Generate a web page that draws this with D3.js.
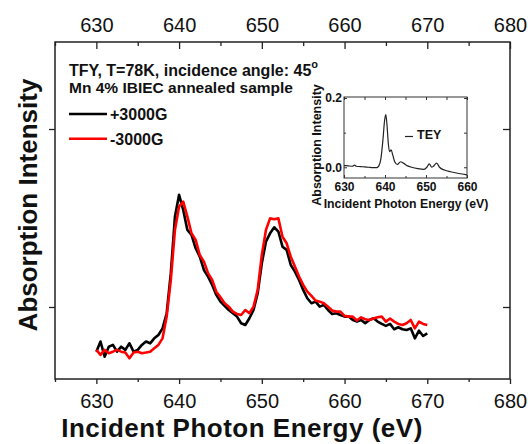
<!DOCTYPE html>
<html><head><meta charset="utf-8">
<script src="https://cdn.jsdelivr.net/npm/d3@7"></script>
<style>
body{margin:0;background:#fff}
svg{display:block}
text{font-family:"Liberation Sans",Arial,Helvetica,sans-serif;fill:#111}
</style>
</head><body>
<svg id="chart" width="528" height="444"></svg>
<script>
// ---------- DATA ----------
const energy = [630,630.5,631,631.5,632,632.5,633,633.5,634,634.5,635,635.5,636,636.5,637,637.5,638,638.5,639,639.5,
  640,640.5,641,641.5,642,642.5,643,643.5,644,644.5,645,645.5,646,646.5,647,647.5,648,648.5,649,649.5,
  650,650.5,651,651.5,652,652.5,653,653.5,654,654.5,655,655.5,656,656.5,657,657.5,658,658.5,659,659.5,
  660,660.5,661,661.5,662,662.5,663,663.5,664,664.5,665,665.5,666,666.5,667,667.5,668,668.5,669,669.5,670];
const plus3000G = [0.749,0.806,0.721,0.777,0.787,0.749,0.777,0.759,0.796,0.749,0.759,0.787,0.806,0.796,0.824,0.843,0.880,0.965,1.190,1.508,
  1.630,1.545,1.433,1.405,1.330,1.283,1.208,1.171,1.124,1.068,1.030,1.006,0.983,0.965,0.946,0.909,0.899,0.937,0.983,1.077,
  1.246,1.367,1.414,1.448,1.424,1.339,1.321,1.236,1.199,1.152,1.096,1.049,1.021,1.030,1.002,1.012,0.983,0.961,0.965,0.955,
  0.946,0.946,0.927,0.918,0.927,0.909,0.927,0.937,0.918,0.905,0.894,0.905,0.875,0.886,0.875,0.871,0.880,0.824,0.867,0.837,0.852];
const minus3000G = [0.759,0.731,0.759,0.740,0.749,0.759,0.749,0.744,0.712,0.744,0.749,0.740,0.744,0.749,0.768,0.787,0.824,0.946,1.152,1.433,
  1.564,1.592,1.508,1.414,1.377,1.292,1.255,1.190,1.152,1.086,1.055,1.021,1.002,0.974,0.961,0.955,0.983,0.965,1.002,1.096,
  1.292,1.433,1.498,1.493,1.498,1.395,1.358,1.283,1.227,1.171,1.124,1.086,1.062,1.036,1.030,1.021,1.002,0.980,0.974,0.974,
  0.950,0.946,0.946,0.924,0.942,0.931,0.927,0.935,0.942,0.946,0.918,0.935,0.918,0.905,0.899,0.909,0.927,0.880,0.918,0.905,0.899];
const xTicks = [630,640,650,660,670,680];
const xMinorTicks = [625,635,645,655,665,675];
const yTicks = [1,2];
const seriesNames = ["+3000G","-3000G"];
const seriesColors = ["#000000","#ff0000"];

const teyEnergy = [630,631,632,632.6,633,634,635,636,637,638,638.5,639,639.5,639.9,640.2,640.5,640.8,641.1,641.5,641.9,
  642.4,643,643.8,644.5,645.5,646.5,648,649.5,650.2,650.8,651.4,651.8,652.6,653.3,654.5,656,658,660];
const teyValue = [0.005,0.004,0.003,0.006,0.003,0.002,0.001,0.000,-0.001,-0.001,0.004,0.025,0.080,0.135,0.152,0.120,0.070,0.045,0.050,0.035,
  0.015,0.008,0.016,0.012,0.004,0.000,-0.004,-0.006,0.000,0.010,0.000,0.003,0.012,0.000,-0.008,-0.013,-0.018,-0.022];
const insetXTicks = [630,640,650,660];
const insetXMinor = [635,645,655];
const insetYTicks = [0.0,0.2];
const insetYMinor = [0.1];

// ---------- MAIN CHART ----------
const svg = d3.select("#chart");
const L = 55, R = 510, T = 42, B = 379;
const x = d3.scaleLinear().domain([625, 680]).range([L, R]);
const y = d3.scaleLinear().domain([0.5955, 2.4888]).range([B, T]);

function styleAxis(g){
  g.select(".domain").remove();
  g.selectAll(".tick line").attr("stroke","#222").attr("stroke-width",1.3);
  g.selectAll(".tick text").attr("fill","#111").style("font-family",'"Liberation Sans",Arial,sans-serif');
}

// bottom
svg.append("g").attr("transform",`translate(0,${B})`)
  .call(d3.axisBottom(x).tickValues(xTicks).tickFormat(d3.format("d")).tickSize(5).tickPadding(9.5))
  .call(styleAxis).selectAll("text").style("font-size","20px");
svg.append("g").attr("transform",`translate(0,${B})`)
  .call(d3.axisBottom(x).tickValues(xMinorTicks).tickFormat("").tickSize(3)).call(styleAxis);
// top (ticks inward)
svg.append("g").attr("transform",`translate(0,${T})`)
  .call(d3.axisTop(x).tickValues(xTicks).tickFormat(d3.format("d")).tickSize(-7).tickPadding(10.5))
  .call(styleAxis).selectAll("text").style("font-size","20px");
svg.append("g").attr("transform",`translate(0,${T})`)
  .call(d3.axisTop(x).tickValues(xMinorTicks).tickFormat("").tickSize(-4)).call(styleAxis);
// left (outward)
svg.append("g").attr("transform",`translate(${L},0)`)
  .call(d3.axisLeft(y).tickValues(yTicks).tickFormat("").tickSize(6)).call(styleAxis);
// right (pointing left / inward)
svg.append("g").attr("transform",`translate(${R},0)`)
  .call(d3.axisLeft(y).tickValues(yTicks).tickFormat("").tickSize(7)).call(styleAxis);

// frame
svg.append("rect").attr("x",L).attr("y",T).attr("width",R-L).attr("height",B-T)
  .attr("fill","none").attr("stroke","#222").attr("stroke-width",1.5);

// series
const line = d3.line().x((d,i)=>x(energy[i])).y(d=>y(d));
[plus3000G, minus3000G].forEach((s,k)=>{
  svg.append("path").datum(s).attr("d",line).attr("fill","none")
    .attr("stroke",seriesColors[k]).attr("stroke-width",2.6).attr("stroke-linejoin","round");
});

// axis titles
svg.append("text").attr("x",242).attr("y",437).attr("text-anchor","middle")
  .style("font-size","26px").style("font-weight","bold").style("letter-spacing","0.5px")
  .text("Incident Photon Energy (eV)");
svg.append("text").attr("transform","translate(37,205) rotate(-90)").attr("text-anchor","middle")
  .style("font-size","26px").style("font-weight","bold")
  .text("Absorption Intensity");

// legend / annotation
const t1 = svg.append("text").attr("x",69).attr("y",76).style("font-size","16px").style("font-weight","bold");
t1.append("tspan").text("TFY, T=78K, incidence angle: 45");
t1.append("tspan").attr("dy",-8).style("font-size","11px").text("o");
svg.append("text").attr("x",69).attr("y",93).style("font-size","15.5px").style("font-weight","bold")
  .text("Mn 4% IBIEC annealed sample");
const legY = [114,138.7];
seriesNames.forEach((n,k)=>{
  svg.append("line").attr("x1",69).attr("x2",107).attr("y1",legY[k]).attr("y2",legY[k])
    .attr("stroke",seriesColors[k]).attr("stroke-width",2.6);
  svg.append("text").attr("x",110).attr("y",legY[k]+6).style("font-size","16px").style("font-weight","bold").text(n);
});

// ---------- INSET ----------
const iL = 344, iR = 467, iT = 97, iB = 178;
const ix = d3.scaleLinear().domain([630,660]).range([iL,iR]);
const iy = d3.scaleLinear().domain([-0.031,0.203]).range([iB,iT]);
function styleInset(g){
  g.select(".domain").remove();
  g.selectAll(".tick line").attr("stroke","#333").attr("stroke-width",1);
  g.selectAll(".tick text").attr("fill","#111").style("font-size","12px").style("font-weight","bold")
    .style("font-family",'"Liberation Sans",Arial,sans-serif');
}
svg.append("g").attr("transform",`translate(0,${iB})`)
  .call(d3.axisBottom(ix).tickValues(insetXTicks).tickFormat(d3.format("d")).tickSize(-3).tickPadding(4)).call(styleInset);
svg.append("g").attr("transform",`translate(0,${iB})`)
  .call(d3.axisBottom(ix).tickValues(insetXMinor).tickFormat("").tickSize(-2)).call(styleInset);
svg.append("g").attr("transform",`translate(0,${iT})`)
  .call(d3.axisTop(ix).tickValues(insetXTicks.concat(insetXMinor)).tickFormat("").tickSize(-3)).call(styleInset);
svg.append("g").attr("transform",`translate(${iL},0)`)
  .call(d3.axisLeft(iy).tickValues(insetYTicks).tickFormat(d3.format(".1f")).tickSize(-3).tickPadding(2)).call(styleInset);
svg.append("g").attr("transform",`translate(${iL},0)`)
  .call(d3.axisLeft(iy).tickValues(insetYMinor).tickFormat("").tickSize(-2)).call(styleInset);
svg.append("g").attr("transform",`translate(${iR},0)`)
  .call(d3.axisRight(iy).tickValues(insetYTicks.concat(insetYMinor)).tickFormat("").tickSize(-3)).call(styleInset);
svg.append("rect").attr("x",iL).attr("y",iT).attr("width",iR-iL).attr("height",iB-iT)
  .attr("fill","none").attr("stroke","#333").attr("stroke-width",1);
const iline = d3.line().x((d,i)=>ix(teyEnergy[i])).y(d=>iy(d)).curve(d3.curveMonotoneX);
svg.append("path").datum(teyValue).attr("d",iline).attr("fill","none").attr("stroke","#222").attr("stroke-width",1.2);
svg.append("line").attr("x1",405).attr("x2",413).attr("y1",136.5).attr("y2",136.5).attr("stroke","#222").attr("stroke-width",1.2);
svg.append("text").attr("x",417).attr("y",138.5).style("font-size","12.5px").style("font-weight","bold").text("TEY");
svg.append("text").attr("x",406).attr("y",208).attr("text-anchor","middle")
  .style("font-size","12.3px").style("font-weight","bold").text("Incident Photon Energy (eV)");
svg.append("text").attr("transform","translate(321,145) rotate(-90)").attr("text-anchor","middle")
  .style("font-size","12.5px").style("font-weight","bold").text("Absorption Intensity");
</script>
</body></html>
